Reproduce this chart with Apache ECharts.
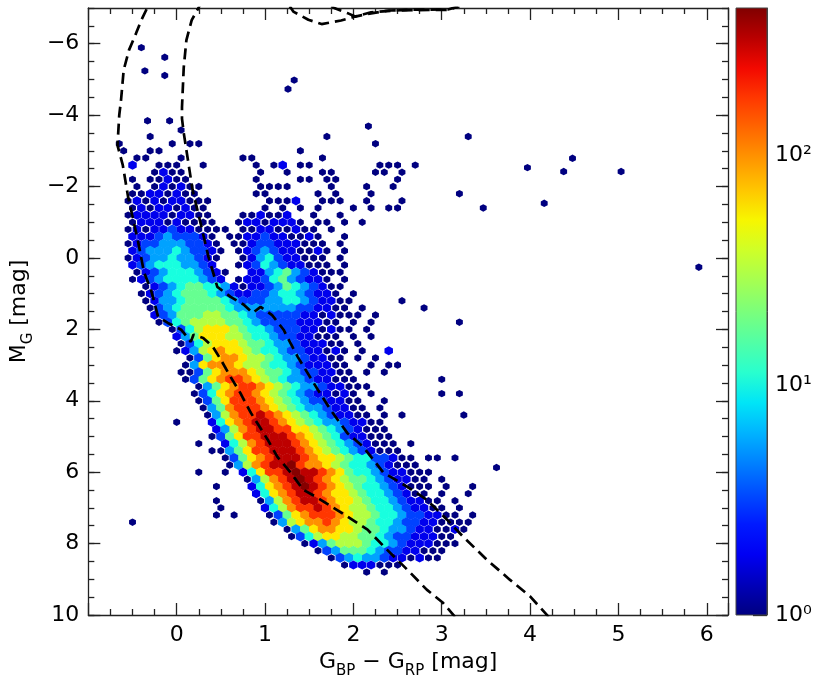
<!DOCTYPE html>
<html>
<head>
<meta charset="utf-8">
<script src="https://cdn.jsdelivr.net/npm/echarts@6/dist/echarts.min.js"></script>
<style>
html, body { margin: 0; padding: 0; background: #fff; }
#cmd { width: 831px; height: 691px; }
</style>
</head>
<body>
<div id="cmd"></div>
<script>
// hexbin counts, one string per hex row (blocks of 5 cells)
// '.' = empty, '0'..'9','a','b' = log10(count) in steps of 0.25
var hexRows = [
  '..... 0.... ..... ..... ..... 0.... ..... ..... .0...',   // -3.4
  '.0... ..0.0 0.... ..... ..... ..... 0....',
  '..0.. 00... ..... ..... ..0..',
  '...00 ...0. ..... 00... ....0',
  '...1. .000. .0... ..0.0 1.00. ..... .000. 0....',
  '..... 0100. ..... ..0.. 0...0 0.... 00.0.',
  '...0. 00100 ..... ..0.. ..00. 00... ...0.',
  '...0. 01010 0.... ..000 0.... 0...0 ..0..',
  '...00 11010 0.... ..00. ....0 .0... 0.... ..... 0....',
  '..010 10110 00... ...00 01..0 00..0 ...0.',
  '...01 01101 00... ...0. 0.0.0 ...0. 0.00.',
  '..011 11011 00... 00100 1..0. .0...',
  '...01 11010 000.. 01101 110.0 0.0.0',
  '..010 11211 0000. 00110 0100. 0....',
  '...11 12322 210.0 01121 10010 ..0..',
  '..012 23332 210.0 01221 11000 .0...',
  '...12 33343 2210. 01232 11001 0.0..',
  '..012 33433 210.. 01342 11000 .0...',                      // 0.0
  '...12 34443 321.. 01243 21100 0.0..',
  '...01 23444 3210. .1134 53210 00...',
  '...01 23444 4321. 01124 53211 0.0..',
  '....0 12345 54431 01123 54321 00...',
  '....0 12345 55432 11223 44321 10.0.',
  '....0 13345 55543 22233 44321 100.. ...0.',
  '..... 02345 55554 33333 33221 100.0 ..... .0...',
  '..... 12355 56655 43222 22110 1000. 0....',
  '..... .0245 66665 54322 22111 00.0. 0.... ..... 0....',
  '..... ..024 67776 54432 22110 100.0',                      // 2.0
  '..... ...13 57776 65443 22110 00.0. 0....',
  '..... ...02 46777 65543 32111 00.0.',
  '..... ...01 36787 76544 32211 010.0 ..1..',
  '..... ....0 25788 76654 33211 00.0. 0....',
  '..... ....0 37888 76654 43211 100.. 0.00.',
  '..... ...00 25788 87655 43221 100.0 .0...',
  '..... ....0 25789 98765 43321 1000. ..... ...0.',
  '..... ..... 03578 99876 54332 11000',
  '..... ..... 02478 99876 54321 1010. 0.... ...0. 0....',
  '..... ..... 02579 99876 54322 1100. .0...',                // 4.0
  '..... ..... .0358 99987 65433 21100 .0...',
  '..... ..... .0368 99a98 76543 21100 .0.0. ..... 0....',
  '..... ...0. ..147 89aa9 87654 33211 00...',
  '..... ..... ..136 89aa9 97765 43210 00...',
  '..... ..... ..025 799aa a9876 54211 000..',
  '..... ..... 0..14 689aa a9876 54321 000.0',
  '..... ..... ..003 5799a aa987 65432 1000.',
  '..... ..... ...02 5789a aa987 76544 22100 .00.0',
  '..... ..... ....0 3689a ab988 76544 32100 0....',
  '..... ..... 0..0. 14799 abaa9 87544 32110 00...',          // 6.0
  '..... ..... ..... .0368 9aba9 87655 43211 00.0.',
  '..... ..... ..0.. .1478 9aba9 87654 43210 00.0. .0...',
  '..... ..... ..... ..147 89aa9 87765 44321 00.0. .0...',
  '..... ..... ..0.. ..036 89aa9 87765 44321 100.0',
  '..... ..... ...0. ...14 6899a 98766 54432 1100. 0....',
  '..... ..... ..0.0 ...02 57899 98766 54432 21100 .0...',
  '...0. ..... ..... ....0 36788 98766 54432 21100 00...',
  '..... ..... ..... ..... 03578 87765 54332 11001 0....',
  '..... ..... ..... ..... .0246 77665 54322 11100',
  '..... ..... ..... ..... ..013 56665 44321 11000',          // 8.0
  '..... ..... ..... ..... ....0 23555 43221 1000.',
  '..... ..... ..... ..... ..... 02343 32110 100..',
  '..... ..... ..... ..... ..... ..011 1000.',
  '..... ..... ..... ..... ..... ....0 .0...'
];
var rowStartY = -3.4, rowStepY = 0.2;
var colStartX = -0.8, colStepX = 0.1;

// single stars outside the grid above
var strayStars = [
  [-0.40, -5.89], [-0.135, -5.62], [-0.36, -5.24], [-0.135, -5.11],
  [1.26, -4.73], [1.33, -4.98], [-0.33, -3.84], [-0.08, -3.84], [0.05, -3.58],
  [2.17, -3.69], [3.97, -2.53], [4.48, -2.79], [4.38, -2.42], [5.03, -2.42],
  [4.16, -1.53], [3.47, -1.40], [5.91, 0.26], [3.62, 5.87]
];

// isochrones (dashed)
var isoA = [[3.15, 10.05], [3.01, 9.65], [2.83, 9.29], [2.61, 8.73], [2.38, 8.17], [2.16, 7.61],
  [1.93, 7.24], [1.77, 6.99], [1.59, 6.71], [1.43, 6.49], [1.29, 6.01], [1.14, 5.57], [1.03, 5.09],
  [0.84, 4.34], [0.72, 3.78], [0.61, 3.33], [0.50, 2.85], [0.41, 2.49], [0.30, 2.24], [0.19, 2.15],
  [0.16, 2.35], [0.12, 2.22], [0.05, 2.01], [-0.10, 1.82], [-0.21, 1.65], [-0.29, 0.90], [-0.37, 0.40],
  [-0.44, -0.50], [-0.55, -1.71], [-0.61, -2.60], [-0.67, -3.15], [-0.65, -4.00], [-0.63, -4.42],
  [-0.60, -5.26], [-0.54, -5.82], [-0.46, -6.29], [-0.40, -6.66], [-0.33, -7.02], [-0.25, -7.40]];
var isoB = [[4.21, 10.05], [4.00, 9.48], [3.77, 9.01], [3.51, 8.45], [3.24, 7.80], [3.06, 7.33],
  [2.83, 6.77], [2.61, 6.41], [2.34, 6.01], [2.11, 5.29], [1.93, 4.90], [1.74, 4.25], [1.55, 3.50],
  [1.37, 2.77], [1.25, 2.21], [1.21, 2.01], [1.08, 1.60], [0.95, 1.37], [0.86, 1.54], [0.76, 1.31],
  [0.61, 1.09], [0.46, 0.81], [0.36, -0.03], [0.27, -0.98], [0.18, -1.90], [0.13, -2.70], [0.08, -3.50],
  [0.06, -3.90], [0.06, -4.22], [0.08, -5.34], [0.11, -6.10], [0.17, -6.66], [0.25, -7.02], [0.33, -7.40]];
var isoC = [[1.28, -7.05], [1.32, -6.90], [1.49, -6.67], [1.64, -6.55], [1.86, -6.65], [2.02, -6.76],
  [2.20, -6.85], [2.40, -6.93], [3.07, -6.95], [3.20, -7.05]];
var isoD = [[1.75, -7.05], [1.79, -6.99], [1.94, -6.85], [2.02, -6.76], [2.20, -6.88], [2.60, -6.95],
  [3.07, -6.96], [3.20, -7.05]];

var yMajorTicks = [-6, -4, -2, 0, 2, 4, 6, 8, 10];
var cbarMajorTicks = [0, 1, 2];
var cbarMinorCounts = [2, 3, 4, 5, 6, 7, 8, 9, 20, 30, 40, 50, 60, 70, 80, 90, 200, 300, 400];
var cbarLogMax = 2.64;

function jet(t) {
  function seg(p) {
    for (var i = 1; i < p.length; i++) {
      if (t <= p[i][0]) {
        var f = (t - p[i - 1][0]) / (p[i][0] - p[i - 1][0]);
        return p[i - 1][1] + f * (p[i][1] - p[i - 1][1]);
      }
    }
    return p[p.length - 1][1];
  }
  t = Math.max(0, Math.min(1, t));
  var r = seg([[0, 0], [0.35, 0], [0.66, 1], [0.89, 1], [1, 0.5]]);
  var g = seg([[0, 0], [0.125, 0], [0.375, 1], [0.64, 1], [0.91, 0], [1, 0]]);
  var b = seg([[0, 0.5], [0.11, 1], [0.34, 1], [0.65, 0], [1, 0]]);
  return 'rgb(' + Math.round(r * 255) + ',' + Math.round(g * 255) + ',' + Math.round(b * 255) + ')';
}

var hexCells = [];
hexRows.forEach(function (row, r) {
  var s = row.replace(/ /g, '');
  var y = rowStartY + r * rowStepY;
  var x0 = colStartX + (r % 2) * colStepX / 2;
  for (var i = 0; i < s.length; i++) {
    var lv = '0123456789ab'.indexOf(s.charAt(i));
    if (lv < 0) continue;
    hexCells.push([x0 + i * colStepX, y, 0.25 * (lv === 11 ? 10.5 : lv)]);
  }
});
strayStars.forEach(function (p) { hexCells.push([p[0], p[1], 0]); });

var yMinorTicks = [];
for (var v = -7; v <= 10; v += 0.5) yMinorTicks.push(v);
var cbarMinorTicks = cbarMinorCounts.map(function (c) { return Math.log10(c); });

var font = 'DejaVu Sans';
var ink = { color: '#222', width: 1.3 };
function minus(v) { return String(v).replace('-', '\u2212'); }

function hexItem(params, api) {
  var c = api.coord([api.value(0), api.value(1)]);
  var sz = api.size([colStepX, 2 * rowStepY]);
  var lv = api.value(2);
  var k = lv === 0 ? 0.78 : (lv < 0.3 ? 0.96 : 1.05);
  var hw = Math.abs(sz[0]) / 2 * k, a = Math.abs(sz[1]) / 3 * k, b = Math.abs(sz[1]) / 6 * k;
  return {
    type: 'polygon',
    shape: { points: [[c[0] + hw, c[1] - b], [c[0] + hw, c[1] + b], [c[0], c[1] + a],
      [c[0] - hw, c[1] + b], [c[0] - hw, c[1] - b], [c[0], c[1] - a]] },
    style: { fill: jet(lv / cbarLogMax) }
  };
}

function cbarItem(params, api) {
  var p0 = api.coord([0, cbarLogMax]);
  var p1 = api.coord([1, 0]);
  var stops = [];
  for (var i = 0; i <= 20; i++) stops.push({ offset: i / 20, color: jet(1 - i / 20) });
  return {
    type: 'rect',
    shape: { x: p0[0], y: p0[1], width: p1[0] - p0[0], height: p1[1] - p0[1] },
    style: { fill: new echarts.graphic.LinearGradient(0, 0, 0, 1, stops), stroke: '#444', lineWidth: 1 }
  };
}

function isoSeries(d) {
  return {
    type: 'line', xAxisIndex: 0, yAxisIndex: 0, data: d, showSymbol: false, z: 5,
    lineStyle: { color: '#000', width: 2.7, type: [11, 6] }
  };
}

var nameRich = {
  t: { fontSize: 22, fontFamily: font, color: '#000', verticalAlign: 'top', lineHeight: 26 },
  s: { fontSize: 15, fontFamily: font, color: '#000', verticalAlign: 'top', lineHeight: 15, padding: [13, 0, 0, 0] }
};

var chart = echarts.init(document.getElementById('cmd'));
chart.setOption({
  animation: false,
  grid: [
    { left: 88, top: 8, width: 640, height: 607 },
    { left: 736, top: 8, width: 31, height: 607 }
  ],
  xAxis: [
    {
      gridIndex: 0, type: 'value', min: -1, max: 6.24, interval: 1, position: 'bottom',
      axisLine: { show: true, onZero: false, lineStyle: ink },
      axisTick: { inside: true, length: 12, lineStyle: ink },
      minorTick: { show: true, splitNumber: 4, length: 6, lineStyle: ink },
      splitLine: { show: false },
      axisLabel: {
        fontSize: 22, fontFamily: font, color: '#000', margin: 9,
        formatter: function (v) { return (v >= 0 && v === Math.round(v)) ? minus(v) : ''; }
      },
      name: '{t|G}{s|BP}{t| \u2212 G}{s|RP}{t| [mag]}', nameLocation: 'middle', nameGap: 33,
      nameTextStyle: { rich: nameRich }
    },
    {
      gridIndex: 0, type: 'value', min: -1, max: 6.24, interval: 1, position: 'top',
      axisLine: { show: true, onZero: false, lineStyle: ink },
      axisTick: { inside: true, length: 12, lineStyle: ink },
      minorTick: { show: true, splitNumber: 4, length: 6, lineStyle: ink },
      splitLine: { show: false }, axisLabel: { show: false }
    },
    { gridIndex: 1, type: 'value', min: 0, max: 1, show: false }
  ],
  yAxis: [
    {
      gridIndex: 0, type: 'value', min: -7, max: 10, inverse: true, position: 'left',
      axisLine: { show: true, onZero: false, lineStyle: ink },
      axisTick: { inside: true, length: 12, lineStyle: ink, customValues: yMajorTicks },
      splitLine: { show: false },
      axisLabel: { customValues: yMajorTicks, fontSize: 22, fontFamily: font, color: '#000', margin: 9, formatter: minus },
      name: '{t|M}{s|G}{t| [mag]}', nameLocation: 'middle', nameGap: 50,
      nameTextStyle: { rich: nameRich }
    },
    {
      gridIndex: 0, type: 'value', min: -7, max: 10, inverse: true, position: 'left',
      axisLine: { show: false, onZero: false },
      axisTick: { inside: true, length: 6, lineStyle: ink, customValues: yMinorTicks },
      splitLine: { show: false }, axisLabel: { show: false }
    },
    {
      gridIndex: 0, type: 'value', min: -7, max: 10, inverse: true, position: 'right',
      axisLine: { show: true, onZero: false, lineStyle: ink },
      axisTick: { inside: true, length: 12, lineStyle: ink, customValues: yMajorTicks },
      splitLine: { show: false }, axisLabel: { show: false }
    },
    {
      gridIndex: 0, type: 'value', min: -7, max: 10, inverse: true, position: 'right',
      axisLine: { show: false, onZero: false },
      axisTick: { inside: true, length: 6, lineStyle: ink, customValues: yMinorTicks },
      splitLine: { show: false }, axisLabel: { show: false }
    },
    {
      gridIndex: 1, type: 'value', min: 0, max: cbarLogMax, position: 'right',
      axisLine: { show: true, onZero: false, lineStyle: { color: '#444', width: 1 } },
      axisTick: { inside: true, length: 14, lineStyle: ink, customValues: cbarMajorTicks },
      splitLine: { show: false },
      axisLabel: {
        customValues: cbarMajorTicks, fontSize: 22, fontFamily: font, color: '#000', margin: 8,
        formatter: function (v) { return '10' + ['\u2070', '\u00b9', '\u00b2'][Math.round(v)]; }
      }
    },
    {
      gridIndex: 1, type: 'value', min: 0, max: cbarLogMax, position: 'right',
      axisLine: { show: false, onZero: false },
      axisTick: { inside: true, length: 7, lineStyle: ink, customValues: cbarMinorTicks },
      splitLine: { show: false }, axisLabel: { show: false }
    }
  ],
  series: [
    { type: 'custom', xAxisIndex: 0, yAxisIndex: 0, renderItem: hexItem, data: hexCells, clip: true, z: 2 },
    isoSeries(isoA), isoSeries(isoB), isoSeries(isoC), isoSeries(isoD),
    { type: 'custom', xAxisIndex: 2, yAxisIndex: 4, renderItem: cbarItem, data: [[0, 0]], z: 1 }
  ]
});
</script>
</body>
</html>
